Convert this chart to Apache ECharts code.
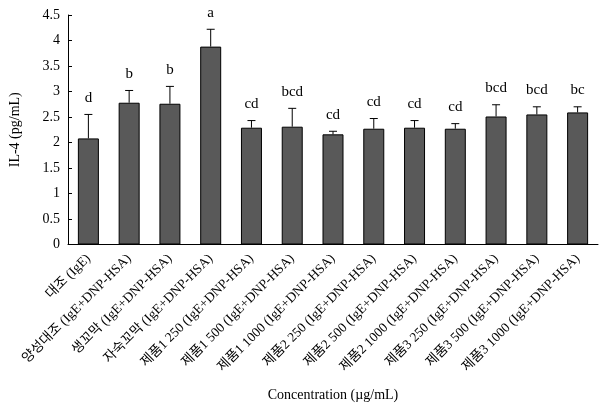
<!DOCTYPE html>
<html><head><meta charset="utf-8">
<script src="https://cdn.jsdelivr.net/npm/echarts@6/dist/echarts.min.js"></script>
<style>html,body{margin:0;padding:0;background:#fff}#c{width:612px;height:420px}</style>
</head><body><div id="c"></div>
<script>
const categories = ["대조 (IgE)","양성대조 (IgE+DNP-HSA)","생꼬막 (IgE+DNP-HSA)","자숙꼬막 (IgE+DNP-HSA)","제품1 250 (IgE+DNP-HSA)","제품1 500 (IgE+DNP-HSA)","제품1 1000 (IgE+DNP-HSA)","제품2 250 (IgE+DNP-HSA)","제품2 500 (IgE+DNP-HSA)","제품2 1000 (IgE+DNP-HSA)","제품3 250 (IgE+DNP-HSA)","제품3 500 (IgE+DNP-HSA)","제품3 1000 (IgE+DNP-HSA)"];
const values = [2.08,2.78,2.76,3.88,2.29,2.31,2.16,2.27,2.29,2.27,2.51,2.55,2.59];
const errors = [0.47,0.24,0.34,0.34,0.14,0.36,0.06,0.20,0.14,0.10,0.23,0.15,0.11];
const letters = ["d","b","b","a","cd","bcd","cd","cd","cd","cd","bcd","bcd","bc"];

const FONT = '"Liberation Serif","Times New Roman","Noto Sans CJK KR",serif';
const chart = echarts.init(document.getElementById('c'));
const errData = values.map((v,i)=>[i, v, v+errors[i], letters[i]]);
chart.setOption({
  animation:false,
  grid:{left:68,right:14,top:15,bottom:175.5},
  xAxis:{type:'category',data:categories,
    axisLine:{lineStyle:{color:'#000',width:1}},axisTick:{show:false},
    axisLabel:{rotate:45,interval:0,fontFamily:FONT,fontSize:13.5,color:'#000',margin:12},
    name:'Concentration (µg/mL)',nameLocation:'middle',nameGap:144,
    nameTextStyle:{fontFamily:FONT,fontSize:14,color:'#000'}},
  yAxis:{type:'value',min:0,max:4.5,interval:0.5,
    axisLine:{show:true,lineStyle:{color:'#000',width:1}},
    axisTick:{show:true,inside:true,length:4,lineStyle:{color:'#000'}},
    splitLine:{show:false},
    axisLabel:{fontFamily:FONT,fontSize:14,color:'#000',margin:8},
    name:'IL-4 (pg/mL)',nameLocation:'middle',nameGap:46,
    nameTextStyle:{fontFamily:FONT,fontSize:14,color:'#000'}},
  series:[
    {type:'bar',data:values,barWidth:21,itemStyle:{color:'#595959',borderColor:'#000',borderWidth:1}},
    {type:'custom',data:errData,z:5,
      renderItem:function(params,api){
        const x=api.value(0);
        const p0=api.coord([x,api.value(1)]);
        const p1=api.coord([x,api.value(2)]);
        const cap=4;
        return {type:'group',children:[
          {type:'line',shape:{x1:p0[0],y1:p0[1],x2:p1[0],y2:p1[1]},style:{stroke:'#000',lineWidth:1}},
          {type:'line',shape:{x1:p1[0]-cap,y1:p1[1],x2:p1[0]+cap,y2:p1[1]},style:{stroke:'#000',lineWidth:1}},
          {type:'text',style:{text:letters[params.dataIndex],x:p1[0],y:p1[1]-9,textAlign:'center',textVerticalAlign:'bottom',font:'15px '+FONT,fill:'#000'}}
        ]};
      }}
  ]
});
</script></body></html>
